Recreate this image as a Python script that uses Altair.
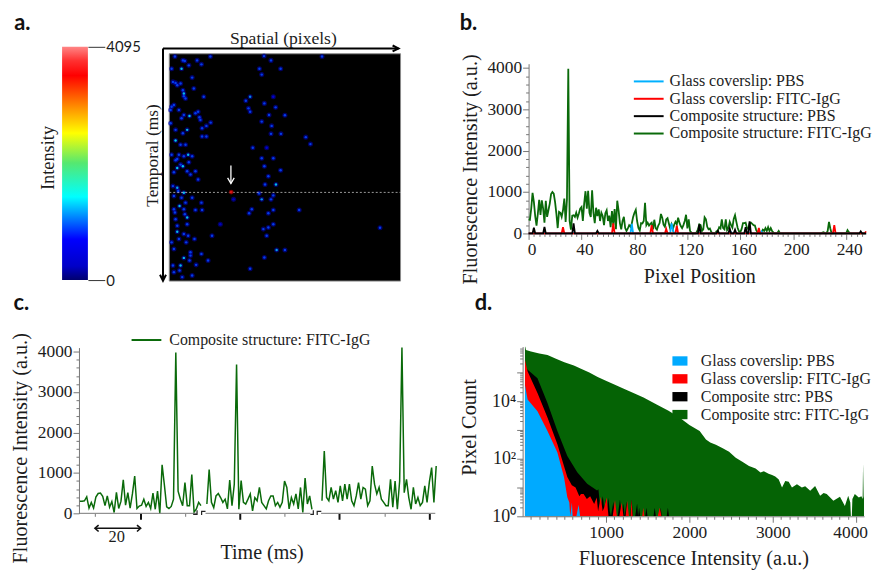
import altair as alt
import pandas as pd

SERIF = "Liberation Serif"
SANS = "Lato"
INK = "#1c1c1c"
AXC = "#777777"

# ---------- panel a ----------
BAR_RANGE = [0, 4095]
BAR_STOP_OFF = [0, 0.06, 0.175, 0.357, 0.502, 0.63, 0.74, 0.877, 0.94, 1]
BAR_STOP_COL = ["#00006e", "#0000c8", "#0000ff", "#00ffff", "#55e870", "#ffff00", "#ff9000", "#ff0000", "#ff3030", "#ff8585"]
SPOT_X = [48,72,68,78,90,115,128,155,38,100,105,50,65,75,80,135,38,60,75,92,110,125,50,85,72,130,143,156,130,143,50,65,80,88,100,55,38,72,55,90,45,95,118,110,55,75,45,62,100,128,45,75,130,110,85,85,50,55,88,107,160,185,45,75,65,95,128,112,148,45,70,100,38,
          275,262,270,275,318,352,380,332,345,310,340,368,338,283,325,310,345,318,367,330,320,353,302,310,345,338,225,280,272,345,330,423,345,330,315,325,355,380,318,275,317,338,303,310,367,443,492,457,667,
          42,55,35,75,72,45,68,118,122,60,75,85,65,50,42,58,68,80,78,48,55,60,75,82,95,92,42,62,35]
SPOT_Y = [48,60,85,62,75,60,72,48,85,112,145,128,130,160,175,170,200,210,225,228,220,240,270,270,280,265,258,248,290,290,302,315,315,345,350,358,345,380,385,368,398,405,420,395,445,460,470,500,475,490,510,510,512,512,535,555,540,578,590,600,590,555,630,657,680,650,645,678,665,700,715,710,610,
          170,182,205,215,190,202,226,225,170,245,258,282,282,324,324,356,356,380,392,410,435,435,462,480,468,480,480,510,522,512,522,512,555,565,570,590,633,633,656,690,47,60,85,103,85,292,48,313,566,
          125,135,210,168,150,195,235,215,232,345,350,395,375,362,440,455,475,490,525,520,560,600,585,610,640,665,680,695,250]
SPOT_V = [800,800,1350,800,800,800,800,800,800,800,800,800,800,1300,800,800,800,800,800,1350,800,800,800,1300,800,800,800,800,800,800,1400,800,800,1300,800,800,800,1350,1350,800,800,800,800,800,1200,1300,800,1300,800,800,800,800,800,800,1300,800,800,1300,800,800,800,500,800,1300,1300,800,800,800,800,800,800,800,800,
          1050,800,800,800,800,800,800,800,600,800,800,800,800,800,600,800,800,800,800,800,800,1300,800,1100,800,800,500,800,800,800,800,800,800,800,800,800,1150,800,800,800,800,800,800,800,800,800,800,800,800,
          800,800,800,800,800,800,800,800,800,800,800,800,800,800,800,800,800,800,800,800,800,800,800,800,800,800,800,800,800]
RED_SPOT = [218, 458, 3650]
SPATIAL_ARROW_X = [12, 723]
TEMPORAL_ARROW_Y = [24, 726]

# ---------- panel b ----------
B_GREEN = [340,330,600,980,760,420,190,480,810,450,800,600,260,790,400,560,720,950,1000,960,760,480,130,520,500,400,560,840,280,820,3980,300,90,430,440,400,500,380,480,600,640,300,720,1020,600,1030,500,400,1040,500,250,620,420,580,300,500,420,200,490,560,300,430,150,540,200,590,100,790,560,250,100,300,400,130,60,120,200,160,240,400,500,570,300,130,70,250,240,300,740,200,260,190,230,260,100,330,130,90,190,250,470,380,210,160,340,370,240,120,220,100,210,280,220,380,260,180,130,200,300,450,120,340,60,20,0,0,0,30,100,220,200,60,100,390,340,160,100,120,40,0,0,0,50,60,150,120,340,130,100,340,80,130,280,200,140,350,440,280,130,50,30,110,250,250,260,140,100,240,260,230,200,190,80,30,20,0,30,90,60,130,60,150,60,130,60,20,0,0,10,60,0]
B_GREEN_PEAK_X = [222, 223, 226, 227, 228, 241, 242]
B_GREEN_PEAK_Y = [20, 30, 60, 280, 120, 80, 30]
B_BLACK_X = [4, 12, 34, 52, 129, 143, 152, 156, 164, 167, 251]
B_BLACK_Y = [140, 160, 240, 60, 220, 60, 120, 90, 150, 290, 50]
B_RED_X = [26, 64, 93, 104, 112, 174, 231, 255]
B_RED_Y = [150, 240, 200, 110, 190, 130, 200, 50]
B_BLUE_X = [4, 12, 34, 52, 78, 108, 109, 129, 143, 153, 167, 176, 251]
B_BLUE_Y = [40, 30, 20, 30, 230, 240, 100, 20, 30, 30, 20, 50, 20]
B_X_TICKS = list(range(0, 256, 4))
B_Y_TICKS = list(range(0, 4001, 200))
B_NAMES = ["Glass coverslip: PBS", "Glass coverslip: FITC-IgG", "Composite structure: PBS", "Composite structure: FITC-IgG"]
B_COLORS = ["#00b0ff", "#ff0000", "#000000", "#0a6a0a"]

# ---------- panel c ----------
C_SEG1 = [300,300,310,410,130,270,130,400,490,500,420,190,430,150,290,20,520,120,300,830,200,510,130,480,920,120,180,200,350,170,270,120,500,100,550,0,1200,700,160,120,170,350,3980,550,350,190,760,190,190,960,30,110,270,190]
C_SEG2 = [230,1080,270,140,430,490,390,270,350,110,820,190,720,3680,100,810,270,230,350,480,60,390,310,640,270,190,110,310,430,430,190,270,150,270,800,640,110,390,230,480,110,640,20,870,230,430,100]
C_SEG3 = [310,1540,390,310,640,350,560,270,680,310,720,350,720,310,190,430,760,350,640,600,190,310,1170,720,480,640,350,270,190,190,840,150,800,100,800,4100,510,840,390,100,640,230,390,190,270,680,270,770,1130,270,1170]
C_STARTS = [0.4, 56, 106.4]
C_TICKS = [7, 27, 46.5, 70.4, 90, 114, 134, 153.5]
C_MAJOR = [27, 70.4, 114, 153.5]
C_AXIS_FROM = [0, 55.4, 106]
C_AXIS_TO = [51.7, 101.3, 156]
C_BREAK_T = [50, 51.7, 51.7, 53.7, 53.7, 55.4, 101.3, 102.6, 102.6, 104.3, 104.3, 106.1]
C_BREAK_V = [-25, -25, 75, -40, 50, 50, -25, -25, 75, -40, 50, 50]
C_BREAK_G = [0, 0, 0, 1, 1, 1, 2, 2, 2, 3, 3, 3]
C_Y_TICKS = list(range(0, 4001, 200))

# ---------- panel d ----------
D_GREEN_X = [28,31,40,100,200,298,400,500,615,700,800,900,1012,1100,1200,1329,1450,1607,1750,1885,2000,2123,2199,2250,2318,2400,2476,2556,2635,2715,2794,2853,2893,2950,2992,3030,3072,3111,3150,3191,3230,3290,3349,3389,3449,3508,3568,3610,3647,3727,3806,3865,3905,3930,3937,3948,3955,3984,4032,4063,4078,4083,4090,4095]
D_GREEN_Y = [800000,800000,600000,530000,460000,407000,300000,225000,174000,135000,100000,70000,49000,38000,28000,19500,13500,7700,4700,2660,1500,925,466,370,310,230,175,108,79,56,46,33,37,30,27,24,19,10,17,16,10,13,10,11,7.7,11.4,5.2,6.5,6,3.5,4.8,2.3,5.2,3,1,1,4,5.9,4.5,5,4,67,5,4]
D_BLACK_X = [40,178,298,417,536,655,774,893,909,925,940,962,977,1000,1010,1028,1045,1060,1088,1105,1140,1167,1190,1207,1225,1246,1265,1290,1306,1325,1350,1373,1385,1397,1410,1470,1484,1498,1570,1584,1598,1640,1655,1670,1728,1742,1756]
D_BLACK_Y = [141000,63000,8700,930,126,34,13.4,7.9,8.8,3,2.5,5,2,4,1.5,4.4,1.5,1,3.2,1,1,3.8,1,2.8,1,3.3,1,1,3.8,1,1,2.8,1,2,1,1,2,1,1,2,1,1,2,1,1,2,1]
D_RED_X = [28,60,178,298,417,536,590,635,680,700,731,770,810,858,889,905,937,960,977,1008,1030,1056,1080,1108,1130,1160,1187,1210,1235,1254,1275,1295,1306,1320,1345,1435,1447,1460,1620,1645,1665]
D_RED_Y = [275000,107000,19500,2700,320,23,12,10,5,5.9,5.9,4,5,2.7,4.5,1.5,4.8,1.5,2,4.5,1,1,1,3.7,1,1,3,1,1,3.5,1,1,3.8,1,1,1,2,1,1,2,1]
D_BLUE_X = [28,60,178,298,417,496,536,560,571,591,600,620,645,671,690]
D_BLUE_Y = [37000,11400,4500,930,165,23,4.6,3,1,3,1,1,1,2.5,1]
D_Y_TICKS = [m * 10 ** e for e in range(0, 6) for m in range(1, 10) if m * 10 ** e < 800000]
D_X_TICKS = list(range(100, 4001, 100))
D_NAMES = ["Glass coverslip: PBS", "Glass coverslip: FITC-IgG", "Composite strc: PBS", "Composite strc: FITC-IgG"]
D_COLORS = ["#00aaff", "#ff0000", "#000000", "#056305"]

LINE_SYMBOL = "M-3,0H3"


def label(text, x, y, size=17, angle=0, font=SERIF, weight="normal", color=INK, align="center"):
    return alt.Chart(pd.DataFrame({"t": [text]})).mark_text(
        font=font, fontSize=size, angle=angle, fontWeight=weight, color=color, align=align, baseline="middle"
    ).encode(x=alt.value(x), y=alt.value(y), text="t:N")


# ----- colour bar -----
stops = [alt.GradientStop(offset=o, color=c) for o, c in zip(BAR_STOP_OFF, BAR_STOP_COL)]
bar_y = alt.Y("lo:Q", scale=alt.Scale(domain=BAR_RANGE), axis=alt.Axis(
    orient="right", values=BAR_RANGE, format="d", tickSize=17, tickColor="#333333", domain=False, grid=False, title=None,
    labelFont=SANS, labelFontSize=15, labelColor=INK, labelPadding=1))
colorbar = alt.layer(
    alt.Chart(pd.DataFrame({"lo": [BAR_RANGE[0]], "hi": [BAR_RANGE[1]]})).mark_rect(
        fill=alt.Gradient(gradient="linear", x1=0, x2=0, y1=1, y2=0, stops=stops)
    ).encode(x=alt.value(0), x2=alt.value(26), y=bar_y, y2="hi:Q"),
    label("a.", -40, -23.5, 22, font=SANS, weight="bold", color="#111111"),
    label("Intensity", -14.3, 112, 18.5, angle=270),
).properties(width=26, height=235)

# ----- heat map -----
hx = alt.Scale(domain=[31, 729], range=[62, 295])
hy = alt.Scale(domain=[40, 727], range=[7, 236])
X = lambda f="x": alt.X(f"{f}:Q", scale=hx, axis=None)
Y = lambda f="y": alt.Y(f"{f}:Q", scale=hy, axis=None)
spots = pd.DataFrame({"x": SPOT_X, "y": SPOT_Y, "v": SPOT_V})
arrow = pd.DataFrame({
    "x": [SPATIAL_ARROW_X[0], SPATIAL_ARROW_X[1], 705, 723, 705, 12, 12, 3, 12, 21, 217, 217, 207, 217, 227],
    "y": [24, 24, 15, 24, 33, TEMPORAL_ARROW_Y[0], TEMPORAL_ARROW_Y[1], 708, 726, 708, 378, 432, 415, 432, 415],
    "g": ["a", "a", "b", "b", "b", "c", "c", "d", "d", "d", "e", "e", "f", "f", "f"],
    "i": list(range(15)),
})
black_arrows = arrow[arrow.g.isin(list("abcd"))]
white_arrows = arrow[arrow.g.isin(list("ef"))]
heat = alt.layer(
    alt.Chart(pd.DataFrame({"x": [31], "x2": [729], "y": [40], "y2": [727]})).mark_rect(
        fill="#000000", stroke="#8a8a8a", strokeWidth=1
    ).encode(x=X(), x2="x2:Q", y=Y(), y2="y2:Q"),
    alt.Chart(spots).mark_circle(size=26, color="#0000a8", opacity=0.6).encode(x=X(), y=Y()),
    alt.Chart(spots).mark_circle(size=6, opacity=0.85).encode(
        x=X(), y=Y(),
        color=alt.Color("v:Q", legend=None, scale=alt.Scale(
            domain=[0, 715, 1464, 2056, 2580, 3033, 3590],
            range=["#00006e", "#0000ff", "#00ffff", "#55e870", "#ffff00", "#ff9000", "#ff0000"]))),
    alt.Chart(pd.DataFrame({"x": [31], "x2": [729], "y": [459]})).mark_rule(
        color="#dddddd", strokeWidth=0.7, strokeDash=[2, 2]
    ).encode(x=X(), x2="x2:Q", y=Y()),
    alt.Chart(pd.DataFrame({"x": [RED_SPOT[0]], "y": [RED_SPOT[1]]})).mark_circle(size=24, color="#a00000").encode(x=X(), y=Y()),
    alt.Chart(pd.DataFrame({"x": [RED_SPOT[0]], "y": [RED_SPOT[1]]})).mark_circle(size=8, color="#ff1a1a").encode(x=X(), y=Y()),
    alt.Chart(black_arrows).mark_line(color="#000000", strokeWidth=2).encode(x=X(), y=Y(), detail="g:N", order="i:Q"),
    alt.Chart(white_arrows).mark_line(color="#ffffff", strokeWidth=1.3).encode(x=X(), y=Y(), detail="g:N", order="i:Q"),
    label("Spatial (pixels)", 177, -8, 17.7),
    label("Temporal (ms)", 46, 109.5, 17.5, angle=270),
).properties(width=404, height=236)

# ----- panel b -----
rows = []
def add(name, xs, ys):
    for a, b in zip(xs, ys):
        rows.append({"s": name, "x": a, "y": b})

green = dict(enumerate(B_GREEN))
green.update(dict(zip(B_GREEN_PEAK_X, B_GREEN_PEAK_Y)))
blue = dict(zip(B_BLUE_X, B_BLUE_Y))
red = dict(zip(B_RED_X, B_RED_Y))
black = dict(zip(B_BLACK_X, B_BLACK_Y))
AXIS_X = list(range(256))
add(B_NAMES[3], AXIS_X, [green.get(i, 0) for i in AXIS_X])
add(B_NAMES[0], AXIS_X, [blue.get(i, 0) for i in AXIS_X])
add(B_NAMES[1], AXIS_X, [red.get(i, 0) for i in AXIS_X])
add(B_NAMES[2], AXIS_X, [black.get(i, 0) for i in AXIS_X])

panel_b = alt.layer(
    alt.Chart(pd.DataFrame(rows)).mark_line(strokeWidth=1.8, clip=False).encode(
        x=alt.X("x:Q", scale=alt.Scale(domain=[0, 255], nice=False), axis=alt.Axis(
            values=B_X_TICKS, labelExpr="datum.value % 40 == 0 ? datum.label : ''", labelOverlap=False, labelFlush=False,
            tickSize={"condition": {"test": "datum.value % 40 == 0", "value": 6}, "value": 3},
            tickColor=AXC, domainColor=AXC, grid=False, labelFont=SERIF, labelFontSize=17.5, labelColor=INK,
            labelOffset=3, labelPadding=1, title="Pixel Position", titleFont=SERIF, titleFontSize=20.2,
            titleFontWeight="normal", titleColor=INK, titleX=172, titleY=33)),
        y=alt.Y("y:Q", scale=alt.Scale(domain=[0, 4100], range=[188, 17], nice=False), axis=alt.Axis(
            values=B_Y_TICKS, labelExpr="datum.value % 1000 == 0 ? datum.label : ''", labelOverlap=False, format="d",
            tickSize={"condition": {"test": "datum.value % 1000 == 0", "value": 6}, "value": 3},
            tickColor=AXC, domainColor=AXC, grid=False, labelFont=SERIF, labelFontSize=17.5, labelColor=INK,
            labelPadding=1, labelFlush=False, title="Fluorescence Intensity (a.u.)", titleFont=SERIF, titleFontSize=20.4,
            titleFontWeight="normal", titleColor=INK, titleX=-48, titleY=123)),
        color=alt.Color("s:N", scale=alt.Scale(domain=B_NAMES, range=B_COLORS), legend=alt.Legend(
            orient="none", legendX=113, legendY=26.8, padding=0, title=None, symbolType=LINE_SYMBOL, symbolSize=100,
            symbolStrokeWidth=2, labelFont=SERIF, labelFontSize=16.1, labelColor=INK, labelLimit=400, rowPadding=0.5,
            labelOffset=13)),
        detail="s:N",
    ),
    label("b.", -60.6, -23.5, 22, font=SANS, weight="bold", color="#111111"),
).properties(width=340, height=188)

# ----- panel c -----
c_rows = []
for k, (st, seg) in enumerate(zip(C_STARTS, [C_SEG1, C_SEG2, C_SEG3])):
    for i, v in enumerate(seg):
        c_rows.append({"t": st + i, "v": v, "seg": k, "s": "Composite structure: FITC-IgG"})

c_x = alt.Scale(domain=[0, 156], range=[17, 376], nice=False)
c_y = alt.Scale(domain=[0, 4100], range=[168, 1], nice=False)
maj = " || ".join(f"datum.value == {m}" for m in C_MAJOR)
panel_c = alt.layer(
    alt.Chart(pd.DataFrame(c_rows)).mark_line(strokeWidth=1.5).encode(
        x=alt.X("t:Q", scale=c_x, axis=alt.Axis(
            values=C_TICKS, labels=False, domain=False, grid=False,
            tickSize={"condition": {"test": maj, "value": 6}, "value": 3},
            tickWidth={"condition": {"test": maj, "value": 2}, "value": 1},
            tickColor={"condition": {"test": maj, "value": "#111111"}, "value": AXC},
            title="Time (ms)", titleFont=SERIF, titleFontSize=20.2, titleFontWeight="normal", titleColor=INK,
            titleX=201, titleY=30)),
        y=alt.Y("v:Q", scale=c_y, axis=alt.Axis(
            offset=-17, values=C_Y_TICKS, labelExpr="datum.value % 1000 == 0 ? datum.label : ''", labelOverlap=False,
            format="d", tickSize={"condition": {"test": "datum.value % 1000 == 0", "value": 6}, "value": 3},
            tickColor=AXC, domainColor=AXC, grid=False, labelFont=SERIF, labelFontSize=17.5, labelColor=INK,
            labelPadding=1, labelFlush=False, title="Fluorescence Intensity (a.u.)", titleFont=SERIF, titleFontSize=20.4,
            titleFontWeight="normal", titleColor=INK, titleX=-49, titleY=102)),
        color=alt.Color("s:N", scale=alt.Scale(range=["#0a6a0a"]), legend=alt.Legend(
            orient="none", legendX=77, legendY=-14.6, padding=0, title=None, symbolType=LINE_SYMBOL, symbolSize=100,
            symbolStrokeWidth=2, labelFont=SERIF, labelFontSize=16, labelColor=INK, labelLimit=400, labelOffset=15)),
        detail="seg:N",
    ),
    alt.Chart(pd.DataFrame({"a": C_AXIS_FROM, "b": C_AXIS_TO, "v": [0, 0, 0]})).mark_rule(color=AXC, strokeWidth=1).encode(
        x=alt.X("a:Q", scale=c_x, axis=None), x2="b:Q", y=alt.Y("v:Q", scale=c_y, axis=None)),
    alt.Chart(pd.DataFrame({"t": C_BREAK_T, "v": C_BREAK_V, "g": C_BREAK_G, "i": range(12)})).mark_line(
        color="#222222", strokeWidth=1.2).encode(
        x=alt.X("t:Q", scale=c_x, axis=None), y=alt.Y("v:Q", scale=c_y, axis=None), detail="g:N", order="i:Q"),
    alt.Chart(pd.DataFrame({"a": [7], "b": [27], "v": [-370]})).mark_rule(color="#111111", strokeWidth=1.6).encode(
        x=alt.X("a:Q", scale=c_x, axis=None), x2="b:Q", y=alt.Y("v:Q", scale=c_y, axis=None)),
    alt.Chart(pd.DataFrame({"t": [8.6, 7, 8.6, 25.4, 27, 25.4], "v": [-290, -370, -450, -290, -370, -450],
                            "g": [0, 0, 0, 1, 1, 1], "i": range(6)})).mark_line(color="#111111", strokeWidth=1.6).encode(
        x=alt.X("t:Q", scale=c_x, axis=None), y=alt.Y("v:Q", scale=c_y, axis=None), detail="g:N", order="i:Q"),
    label("20", 55, 192, 16.5),
    label("c.", -41, -44, 22, font=SANS, weight="bold", color="#111111"),
).resolve_axis(x="independent", y="independent").properties(width=376, height=168)

# ----- panel d -----
d_rows = []
for name, xs, ys in [(D_NAMES[3], D_GREEN_X, D_GREEN_Y), (D_NAMES[2], D_BLACK_X, D_BLACK_Y),
                     (D_NAMES[1], D_RED_X, D_RED_Y), (D_NAMES[0], D_BLUE_X, D_BLUE_Y)]:
    for a, b in zip(xs, ys):
        d_rows.append({"s": name, "x": a, "c": b, "base": 1})

label_expr = "datum.value == 1 ? '10⁰' : datum.value == 100 ? '10²' : datum.value == 10000 ? '10⁴' : ''"
pow10 = "datum.value == 1 || datum.value == 10 || datum.value == 100 || datum.value == 1000 || datum.value == 10000 || datum.value == 100000"
panel_d = alt.layer(
    alt.Chart(pd.DataFrame(d_rows)).mark_area(interpolate="linear", clip=True).encode(
        x=alt.X("x:Q", scale=alt.Scale(domain=[0, 4095], nice=False), axis=alt.Axis(
            values=D_X_TICKS, labelExpr="datum.value % 1000 == 0 ? datum.label : ''", labelOverlap=False, format="d",
            tickSize={"condition": {"test": "datum.value % 1000 == 0", "value": 6}, "value": 3}, labelFlush=False,
            labelOffset={"condition": {"test": "datum.value == 4000", "value": -6}, "value": 0},
            tickColor=AXC, domainColor=AXC, grid=False, labelFont=SERIF, labelFontSize=17.5, labelColor=INK,
            labelPadding=1, title="Fluorescence Intensity (a.u.)", titleFont=SERIF, titleFontSize=20.4,
            titleFontWeight="normal", titleColor=INK, titleX=172, titleY=33)),
        y=alt.Y("c:Q", stack=None, scale=alt.Scale(type="log", domain=[1, 794000], nice=False), axis=alt.Axis(
            values=D_Y_TICKS, labelExpr=label_expr, labelOverlap=False, labelFlush=False,
            tickSize={"condition": {"test": pow10, "value": 6}, "value": 3},
            tickColor=AXC, domainColor=AXC, grid=False, labelFont=SERIF, labelFontSize=18, labelColor=INK,
            labelPadding=1, title="Pixel Count", titleFont=SERIF, titleFontSize=20.5, titleFontWeight="normal",
            titleColor=INK, titleX=-43.6, titleY=81)),
        y2="base:Q",
        color=alt.Color("s:N", scale=alt.Scale(domain=D_NAMES, range=D_COLORS), legend=alt.Legend(
            orient="none", legendX=150.5, legendY=6.5, padding=0, title=None, symbolType="M-1,-0.62H1V0.62H-1Z", symbolSize=230,
            symbolStrokeWidth=0, labelFont=SERIF, labelFontSize=16, labelColor=INK, labelLimit=400, rowPadding=2,
            labelOffset=13)),
    ),
    label("d.", -39.5, -44, 22, font=SANS, weight="bold", color="#111111"),
).properties(width=344, height=171)

row1 = alt.hconcat(colorbar, heat, panel_b, spacing=20, bounds="flush").resolve_scale(color="independent")
row2 = alt.hconcat(panel_c, panel_d, spacing=88, bounds="flush").resolve_scale(color="independent")
chart = alt.vconcat(row1, row2, spacing=302, bounds="flush").resolve_scale(color="independent").properties(
    padding={"left": 1.5, "top": 2, "right": 0, "bottom": 0}
).configure_view(stroke=None).configure_axis(labelFontWeight="normal")

chart.save("out.html", embed_options={"renderer": "svg", "actions": False})
